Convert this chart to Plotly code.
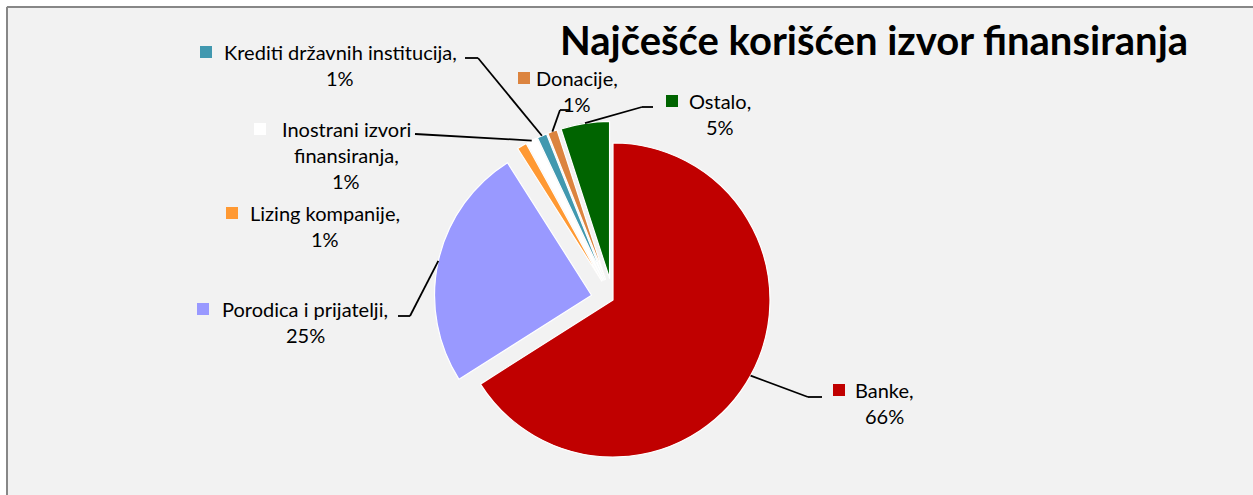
import math
import plotly.graph_objects as go

# ---------------- data ----------------
labels = ["Banke", "Porodica i prijatelji", "Lizing kompanije",
          "Inostrani izvori finansiranja", "Krediti državnih institucija",
          "Donacije", "Ostalo"]
values = [66, 25, 1, 1, 1, 1, 5]
label_lines = [["Banke,", "66%"],
               ["Porodica i prijatelji,", "25%"],
               ["Lizing kompanije,", "1%"],
               ["Inostrani izvori", "finansiranja,", "1%"],
               ["Krediti državnih institucija,", "1%"],
               ["Donacije,", "1%"],
               ["Ostalo,", "5%"]]
title_text = "Najčešće korišćen izvor finansiranja"

# ---------------- styles / layout ----------------
colors = ["#c00000", "#9999ff", "#ff9933", "#ffffff", "#4198af", "#dc843f", "#006400"]
pulls = [0, 0.14, 0.14, 0.14, 0.14, 0.14, 0.14]

W, H = 1253, 495
CX, CY = 613, 300      # pie centre (px)
R = 157                # pie radius (px)
FONT = "Lato"
FS = 20
LINE_H = 26

# label placement (text centre x, first line centre y) and legend key left x
label_pos = [(885, 390), (305, 309), (325, 213), (346, 129), (340, 52), (577, 78), (720, 101)]
key_x = [833, 197, 226, 254, 200, 518, 666]
# label-side points of the leader lines (None = no leader)
elbows = [[(822, 397), (808, 397)],
          [(398, 316), (410, 316)],
          None,
          [(415, 134)],
          [(465, 58), (478, 58)],
          [(570, 110), (560, 110)],
          [(653, 107), (642, 107)]]


def px(x):
    return x / W


def py(y):
    return 1 - y / H


maxpull = max(pulls)
half = R * (1 + maxpull)

fig = go.Figure(go.Pie(
    labels=labels, values=values, sort=False, direction="clockwise", rotation=0,
    pull=pulls, textinfo="none", hoverinfo="label+percent",
    marker=dict(colors=colors, line=dict(color="#ffffff", width=1.2)),
    domain=dict(x=[px(CX - half), px(CX + half)], y=[py(CY + half), py(CY - half)]),
    showlegend=False,
))

shapes = []
annotations = []

# white page outside chart area + gray border
shapes.append(dict(type="rect", xref="paper", yref="paper", x0=0, x1=1, y0=py(6), y1=1,
                   fillcolor="#ffffff", line=dict(width=0)))
shapes.append(dict(type="rect", xref="paper", yref="paper", x0=0, x1=px(6), y0=0, y1=1,
                   fillcolor="#ffffff", line=dict(width=0)))
shapes.append(dict(type="line", xref="paper", yref="paper", x0=px(7), x1=1, y0=py(7), y1=py(7),
                   line=dict(color="#878787", width=2)))
shapes.append(dict(type="line", xref="paper", yref="paper", x0=px(7), x1=px(7), y0=0, y1=py(7),
                   line=dict(color="#878787", width=2)))

# slice anchor points (outer arc at slice mid angle, including pull)
total = sum(values)
cum = 0
anchors = []
for v, p in zip(values, pulls):
    mid = (cum + v / 2) / total * 2 * math.pi
    cum += v
    dx, dy = math.sin(mid), -math.cos(mid)
    off = p * R
    anchors.append((CX + dx * (off + R), CY + dy * (off + R)))

for i, lines in enumerate(label_lines):
    tx, ty = label_pos[i]
    for j, ln in enumerate(lines):
        annotations.append(dict(x=px(tx), y=py(ty + j * LINE_H), xref="paper", yref="paper",
                                text=ln, showarrow=False, xanchor="center", yanchor="middle",
                                font=dict(family=FONT, size=FS, color="#000000")))
    # legend key square
    k = key_x[i]
    shapes.append(dict(type="rect", xref="paper", yref="paper",
                       x0=px(k), x1=px(k + 12), y0=py(ty + 6), y1=py(ty - 6),
                       fillcolor=colors[i], line=dict(width=0)))
    if elbows[i]:
        pts = elbows[i] + [anchors[i]]
        for a, b in zip(pts[:-1], pts[1:]):
            shapes.append(dict(type="line", xref="paper", yref="paper",
                               x0=px(a[0]), y0=py(a[1]), x1=px(b[0]), y1=py(b[1]),
                               line=dict(color="#000000", width=1.8)))

annotations.append(dict(x=px(874), y=py(40), xref="paper", yref="paper", text=f"<b>{title_text}</b>",
                        showarrow=False, xanchor="center", yanchor="middle",
                        font=dict(family=FONT, size=40, color="#000000")))

fig.update_layout(width=W, height=H, margin=dict(l=0, r=0, t=0, b=0),
                  paper_bgcolor="#f2f2f2", plot_bgcolor="#f2f2f2",
                  shapes=shapes, annotations=annotations)

fig.write_html("out.html", config={"displayModeBar": False},
               post_script="document.body.style.margin='0px';document.body.style.overflow='hidden';")
